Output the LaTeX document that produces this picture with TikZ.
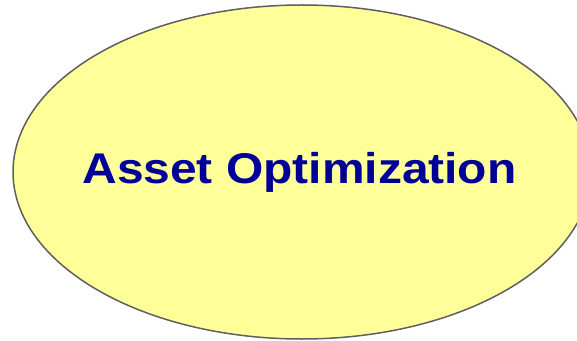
\documentclass[tikz,border=0pt]{standalone}
\usepackage{fontspec}
\setmainfont{Liberation Sans}
\definecolor{ellfill}{HTML}{FFFF99}
\definecolor{ellline}{HTML}{5F5F5F}
\definecolor{txtblue}{HTML}{000099}
\begin{document}
\begin{tikzpicture}[x=1pt,y=1pt,
  ellstyle/.style={draw=ellline,fill=ellfill,line width=1.5pt},
  titletext/.style={text=txtblue,font=\bfseries\fontsize{43}{48}\selectfont,inner sep=0pt}]
\useasboundingbox (0,0) rectangle (577,340);
\clip (0,0) rectangle (577,340);
\path[ellstyle] (302,168) ellipse [x radius=289, y radius=167];
\node[titletext,anchor=base] (title) at (299.5,156.5) {\scalebox{1.115}[1]{Asset Optimization}};
\end{tikzpicture}
\end{document}
